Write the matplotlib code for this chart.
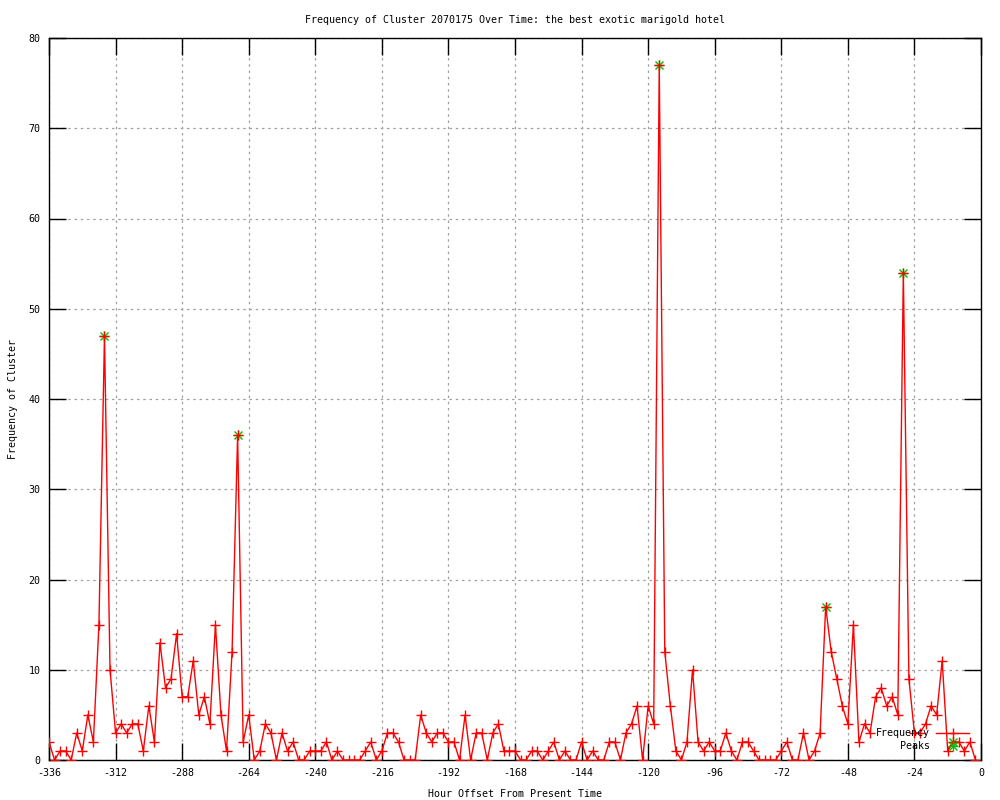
import numpy as np
import matplotlib
matplotlib.use("Agg")
import matplotlib.pyplot as plt
from matplotlib.lines import Line2D
from matplotlib.legend_handler import HandlerTuple

hours = np.arange(-336, 0, 2)
freq = [2, 0, 1, 1, 0, 3, 1, 5, 2, 15,
        47, 10, 3, 4, 3, 4, 4, 1, 6, 2,
        13, 8, 9, 14, 7, 7, 11, 5, 7, 4,
        15, 5, 1, 12, 36, 2, 5, 0, 1, 4,
        3, 0, 3, 1, 2, 0, 0, 1, 1, 1,
        2, 0, 1, 0, 0, 0, 0, 1, 2, 0,
        1, 3, 3, 2, 0, 0, 0, 5, 3, 2,
        3, 3, 2, 2, 0, 5, 0, 3, 3, 0,
        3, 4, 1, 1, 1, 0, 0, 1, 1, 0,
        1, 2, 0, 1, 0, 0, 2, 0, 1, 0,
        0, 2, 2, 0, 3, 4, 6, 0, 6, 4,
        77, 12, 6, 1, 0, 2, 10, 2, 1, 2,
        1, 1, 3, 1, 0, 2, 2, 1, 0, 0,
        0, 0, 1, 2, 0, 0, 3, 0, 1, 3,
        17, 12, 9, 6, 4, 15, 2, 4, 3, 7,
        8, 6, 7, 5, 54, 9, 3, 3, 4, 6,
        5, 11, 1, 2, 2, 1, 2, 0]
peak_hours = [-316, -268, -116, -56, -28, -10]
peak_vals = [47, 36, 77, 17, 54, 2]

xticks = list(range(-336, 1, 24))
yticks = list(range(0, 81, 10))

FONT = "DejaVu Sans Mono"
FS = 7.2
RED = "#ff0000"
GREEN = "#00c000"
MS = 6.5

fig = plt.figure(figsize=(10, 8), dpi=100)
ax = fig.add_axes([0.049, 0.05, 0.932, 0.9025])

ax.plot(peak_hours, peak_vals, linestyle="none", marker="x", color=GREEN,
        markersize=MS * 0.85, markeredgewidth=1.0, zorder=3)
ax.plot(peak_hours, peak_vals, linestyle="none", marker="+", color=GREEN,
        markersize=MS, markeredgewidth=1.0, zorder=3)
ax.plot(hours, freq, color=RED, linewidth=1.0, marker="+", markersize=MS,
        markeredgewidth=1.0, zorder=4)

ax.set_xlim(-336, 0)
ax.set_ylim(0, 80)
ax.set_xticks(xticks)
ax.set_yticks(yticks)
ax.set_xticklabels([str(t) for t in xticks], fontfamily=FONT, fontsize=FS)
ax.set_yticklabels([str(t) for t in yticks], fontfamily=FONT, fontsize=FS)
ax.tick_params(direction="in", length=12, width=1, top=True, right=True,
               pad=6, color="black")
ax.grid(True, color="#a0a0a0", linestyle=(0, (2, 3)), linewidth=0.9)
for s in ax.spines.values():
    s.set_linewidth(1.0)
    s.set_color("black")

ax.set_title("Frequency of Cluster 2070175 Over Time: the best exotic marigold hotel",
             fontfamily=FONT, fontsize=FS, pad=11)
ax.set_xlabel("Hour Offset From Present Time", fontfamily=FONT, fontsize=FS, labelpad=8)
ax.set_ylabel("Frequency of Cluster", fontfamily=FONT, fontsize=FS, labelpad=8)

h1 = Line2D([], [], color=RED, linewidth=1.0, marker="+", markersize=MS)
h2 = (Line2D([], [], linestyle="none", marker="x", color=GREEN, markersize=MS * 0.85),
      Line2D([], [], linestyle="none", marker="+", color=GREEN, markersize=MS))
leg = ax.legend([h1, h2], ["Frequency", "Peaks"], loc="lower right",
                bbox_to_anchor=(0.997, 0.0), frameon=False, markerfirst=False,
                prop={"family": FONT, "size": FS}, handlelength=3.3,
                handletextpad=0.6, labelspacing=0.25, numpoints=1,
                handler_map={tuple: HandlerTuple(ndivide=1, pad=0)})

fig.savefig("out.png", dpi=100)
